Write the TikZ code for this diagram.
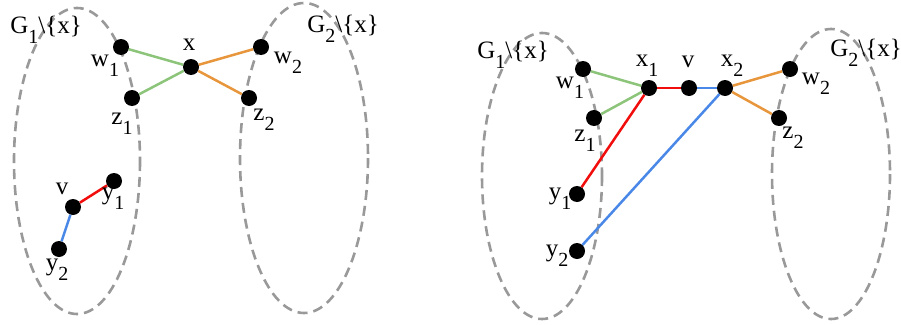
\documentclass[tikz,border=0pt]{standalone}
\usepackage{fontspec}
\setmainfont{Liberation Serif}
\definecolor{egreen}{HTML}{8CC47A}
\definecolor{eorange}{HTML}{E8963C}
\definecolor{ered}{HTML}{F20D0D}
\definecolor{eblue}{HTML}{4A88E8}
\definecolor{egray}{HTML}{999999}
\newcommand{\sbs}[1]{\raisebox{-0.42em}{\fontsize{20}{20}\selectfont #1}}
\begin{document}
\begin{tikzpicture}[x=1pt,y=-1pt,
  dot/.style={circle,fill=black,inner sep=0pt,minimum size=16pt},
  lbl/.style={inner sep=0pt,font=\fontsize{25}{25}\selectfont},
  grp/.style={draw=egray,line width=2.6pt,dash pattern=on 10pt off 6pt},
  eg/.style={draw=egreen,line width=2.5pt},
  eo/.style={draw=eorange,line width=2.5pt},
  er/.style={draw=ered,line width=2.5pt},
  eb/.style={draw=eblue,line width=2.5pt}]
\useasboundingbox (0,0) rectangle (901,324);
% ---------- left panel ----------
\draw[grp] (77,161) ellipse [x radius=63, y radius=153];
\draw[grp] (304,158) ellipse [x radius=64, y radius=155];
\node[dot] (aw1) at (121,47) {};
\node[dot] (ax) at (191,67) {};
\node[dot] (aw2) at (261,47) {};
\node[dot] (az1) at (132,98) {};
\node[dot] (az2) at (249,98) {};
\node[dot] (ay1) at (114,181) {};
\node[dot] (av) at (73,207) {};
\node[dot] (ay2) at (59,249) {};
\draw[eg] (aw1) -- (ax);
\draw[eg] (az1) -- (ax);
\draw[eo] (ax) -- (aw2);
\draw[eo] (ax) -- (az2);
\draw[er] (av) -- (ay1);
\draw[eb] (av) -- (ay2);
\node[lbl] (aG1) at (46,30) {G\sbs{1}\textbackslash\{x\}};
\node[lbl] (aG2) at (343,29) {G\sbs{2}\textbackslash\{x\}};
\node[lbl] (lw1) at (105,66) {w\sbs{1}};
\node[lbl] (lx) at (189,45) {x};
\node[lbl] (lw2) at (288,63) {w\sbs{2}};
\node[lbl] (lz1) at (122,124) {z\sbs{1}};
\node[lbl] (lz2) at (264,120) {z\sbs{2}};
\node[lbl] (lv) at (62,189) {v};
\node[lbl] (ly1) at (113,199) {y\sbs{1}};
\node[lbl] (ly2) at (57,270) {y\sbs{2}};
% ---------- right panel ----------
\draw[grp] (542,176) ellipse [x radius=60, y radius=143];
\draw[grp] (831,174) ellipse [x radius=59, y radius=145];
\node[dot] (bw1) at (583,69) {};
\node[dot] (bz1) at (594,118) {};
\node[dot] (bx1) at (649,88) {};
\node[dot] (bv) at (689,88) {};
\node[dot] (bx2) at (725,88) {};
\node[dot] (bw2) at (790,69) {};
\node[dot] (bz2) at (779,118) {};
\node[dot] (by1) at (577,194) {};
\node[dot] (by2) at (577,251) {};
\draw[eg] (bw1) -- (bx1);
\draw[eg] (bz1) -- (bx1);
\draw[er] (bx1) -- (bv);
\draw[er] (bx1) -- (by1);
\draw[eb] (bv) -- (bx2);
\draw[eb] (bx2) -- (by2);
\draw[eo] (bx2) -- (bw2);
\draw[eo] (bx2) -- (bz2);
\node[lbl] (bG1) at (513,55) {G\sbs{1}\textbackslash\{x\}};
\node[lbl] (bG2) at (866,53) {G\sbs{2}\textbackslash\{x\}};
\node[lbl] (mw1) at (570,88) {w\sbs{1}};
\node[lbl] (mz1) at (585,141) {z\sbs{1}};
\node[lbl] (mx1) at (647,66) {x\sbs{1}};
\node[lbl] (mv) at (688,62) {v};
\node[lbl] (mx2) at (732,66) {x\sbs{2}};
\node[lbl] (mw2) at (816,84) {w\sbs{2}};
\node[lbl] (mz2) at (793,138) {z\sbs{2}};
\node[lbl] (my1) at (560,199) {y\sbs{1}};
\node[lbl] (my2) at (557,256) {y\sbs{2}};
\end{tikzpicture}
\end{document}
